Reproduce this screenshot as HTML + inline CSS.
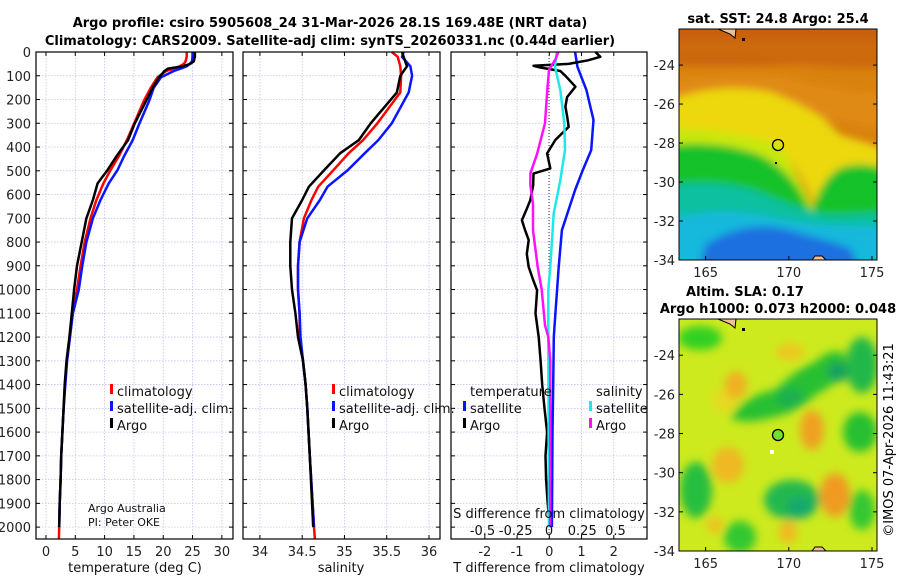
<!DOCTYPE html>
<html><head><meta charset="utf-8">
<style>
body{margin:0;background:#fff;}
svg text{font-family:"DejaVu Sans","Liberation Sans",sans-serif;}
</style></head>
<body>
<svg id="chart" width="900" height="580" viewBox="0 0 900 580" xmlns="http://www.w3.org/2000/svg">
<defs>
<filter id="blur1" x="-20%" y="-20%" width="140%" height="140%"><feGaussianBlur stdDeviation="4"/></filter>
<filter id="blur2" x="-20%" y="-20%" width="140%" height="140%"><feGaussianBlur stdDeviation="4.5"/></filter>
<clipPath id="clipTop"><rect x="679" y="29" width="198" height="231"/></clipPath>
<clipPath id="clipBot"><rect x="679" y="319" width="198" height="232"/></clipPath>
</defs>
<g id="titles" font-weight="bold" font-size="13" text-anchor="middle">
<text x="330" y="27">Argo profile: csiro 5905608_24 31-Mar-2026 28.1S 169.48E (NRT data)</text>
<text x="330" y="45">Climatology: CARS2009. Satellite-adj clim: synTS_20260331.nc (0.44d earlier)</text>
</g>

<!-- SST map -->
<g clip-path="url(#clipTop)">
<rect x="679" y="29" width="198" height="231" fill="#d9820f"/>
<g filter="url(#blur1)">
<rect x="670" y="20" width="220" height="45" fill="#c8600c"/>
<path d="M670,60 Q730,55 780,62 Q830,70 890,68 L890,40 L670,40Z" fill="#cc6a0e"/>
<path d="M670,80 Q730,72 780,76 Q830,90 890,95 L890,130 Q860,125 840,120 L670,115Z" fill="#e08a12"/>
<path d="M670,100 Q720,82 770,92 Q805,105 825,120 L840,135 L890,150 L890,190 Q850,175 815,205 Q800,170 780,150 Q740,150 670,140Z" fill="#ecd810"/>
<path d="M670,128 Q740,132 780,145 Q795,170 815,210 L800,230 L670,230Z" fill="#c8e810"/>
<path d="M670,145 Q720,140 760,155 Q790,170 805,200 L812,212 Q820,180 840,168 Q860,160 890,170 L890,240 L670,240Z" fill="#14c22a"/>
<path d="M670,185 Q720,178 760,192 Q800,210 830,215 L890,212 L890,270 L670,270Z" fill="#10c0a0"/>
<path d="M670,218 Q720,208 760,215 Q810,228 890,226 L890,270 L670,270Z" fill="#14b8dc"/>
<path d="M705,245 Q740,222 780,228 Q820,238 850,248 L860,270 L700,270Z" fill="#1c70e0"/>
</g>
<path d="M718,29 L730,34 L735,38 L736,29Z" fill="#f0c090" stroke="#000" stroke-width="1"/>
<rect x="742" y="38" width="3" height="3" fill="#000"/>
<rect x="775" y="162" width="2" height="2" fill="#000"/>
<path d="M812,260 L815,256 L822,256 L826,260Z" fill="#f0c090" stroke="#000" stroke-width="1"/>
<circle cx="778" cy="145" r="5.5" fill="none" stroke="#000" stroke-width="1.3"/>
</g>
<rect x="679" y="29" width="198" height="231" fill="none" stroke="#000"/>
<text x="778" y="23" font-size="13" font-weight="bold" text-anchor="middle">sat. SST: 24.8 Argo: 25.4</text>

<!-- SLA map -->
<g clip-path="url(#clipBot)">
<rect x="679" y="319" width="198" height="232" fill="#cdea1e"/>
<g filter="url(#blur2)">
<ellipse cx="725" cy="400" rx="12" ry="12" fill="#e8d820"/>
<ellipse cx="736" cy="385" rx="11" ry="14" fill="#f0b020"/>
<ellipse cx="812" cy="430" rx="12" ry="20" fill="#f0a020"/>
<ellipse cx="835" cy="495" rx="15" ry="22" fill="#f09a20"/>
<ellipse cx="728" cy="465" rx="16" ry="18" fill="#f0b820"/>
<ellipse cx="788" cy="532" rx="9" ry="11" fill="#f0b820"/>
<ellipse cx="715" cy="525" rx="8" ry="8" fill="#f0c020"/>
<ellipse cx="790" cy="352" rx="14" ry="8" fill="#f0c420"/>
<ellipse cx="700" cy="338" rx="22" ry="12" fill="#30d020"/>
<ellipse cx="862" cy="365" rx="16" ry="28" fill="#22b848"/>
<path d="M730,418 Q745,395 775,390 Q795,370 815,362 Q835,345 845,355 Q848,380 815,395 Q800,412 770,418 Q745,425 730,418Z" fill="#28c030"/>
<ellipse cx="838" cy="372" rx="10" ry="10" fill="#18a060"/>
<ellipse cx="790" cy="398" rx="14" ry="10" fill="#1cb050"/>
<ellipse cx="860" cy="432" rx="17" ry="20" fill="#28c030"/>
<ellipse cx="696" cy="490" rx="16" ry="28" fill="#26be40"/>
<ellipse cx="792" cy="500" rx="28" ry="20" fill="#22b850"/>
<ellipse cx="800" cy="507" rx="12" ry="10" fill="#18a870"/>
<ellipse cx="740" cy="537" rx="16" ry="16" fill="#30c830"/>
<ellipse cx="862" cy="510" rx="13" ry="20" fill="#36c830"/>
</g>
<path d="M718,319 L730,324 L735,328 L736,319Z" fill="#f0c090" stroke="#000" stroke-width="1"/>
<rect x="742" y="328" width="3" height="3" fill="#000"/>
<rect x="770" y="450" width="4" height="4" fill="#fff"/>
<path d="M812,551 L815,547 L822,547 L826,551Z" fill="#f0c090" stroke="#000" stroke-width="1"/>
<circle cx="778" cy="435" r="5.5" fill="#70e030" stroke="#000" stroke-width="1.3"/>
</g>
<rect x="679" y="319" width="198" height="232" fill="none" stroke="#000"/>
<text x="745" y="296" font-size="13" font-weight="bold" text-anchor="middle">Altim. SLA: 0.17</text>
<text x="778" y="313" font-size="13" font-weight="bold" text-anchor="middle">Argo h1000: 0.073 h2000: 0.048</text>
<text transform="translate(893,440) rotate(-90)" font-size="13" text-anchor="middle">©IMOS 07-Apr-2026 11:43:21</text>
<g id="maps-axes"></g>
<g id="panels"></g>
</svg>
<script>
// ---- data ----
const depthTicks=[0,100,200,300,400,500,600,700,800,900,1000,1100,1200,1300,1400,1500,1600,1700,1800,1900,2000];
const tempTicks=[0,5,10,15,20,25,30];
const salTicks=[34,34.5,35,35.5,36];
const salTickLabels=["34","34.5","35","35.5","36"];
const tdiffTicks=[-2,-1,0,1,2];
const sdiffTicks=[-0.5,-0.25,0,0.25,0.5];
const sdiffTickLabels=["-0.5","-0.25","0","0.25","0.5"];

const depthsT=[0,20,40,50,60,70,80,107,150,205,303,371,440,497,553,623,700,800,900,1000,1100,1200,1300,1400,1500,1600,1700,1800,1900,2000];
const tempArgo=[25.4,25.4,25.2,24.6,23.3,20.8,20.2,19.3,18.2,17.1,15.1,14.0,12.0,10.5,8.8,8.0,6.9,6.1,5.3,4.8,4.4,4.0,3.5,3.2,3.0,2.8,2.6,2.5,2.35,2.25];
const tempSat=[25.0,25.0,24.9,24.5,24.0,23.0,21.8,19.6,18.4,17.6,15.9,14.8,13.3,12.2,10.7,9.3,8.0,6.9,6.2,5.6,4.6,4.1,3.6,3.3,3.0,2.8,2.6,2.5,2.35,2.25];
const depthsTClim=[0,20,40,50,60,70,80,107,150,205,303,371,440,497,553,623,700,800,900,1000,1100,1200,1300,1400,1500,1600,1700,1800,1900,2000,2050];
const tempClim=[24.0,24.0,23.8,23.5,22.8,21.8,20.5,19.0,17.9,16.7,15.0,13.8,12.4,11.0,9.8,8.6,7.6,6.6,5.9,5.3,4.5,4.05,3.55,3.25,3.0,2.8,2.6,2.5,2.35,2.25,2.2];

const depthsS=[0,20,60,100,170,300,371,426,497,567,623,700,800,900,1000,1100,1200,1300,1400,1500,1700,2000];
const salArgo=[35.68,35.70,35.74,35.66,35.62,35.31,35.17,34.95,34.76,34.58,34.50,34.38,34.36,34.36,34.38,34.42,34.45,34.51,34.54,34.56,34.59,34.63];
const salSat=[35.70,35.68,35.78,35.80,35.76,35.56,35.40,35.24,35.04,34.80,34.71,34.56,34.47,34.45,34.45,34.47,34.48,34.51,34.54,34.56,34.59,34.64];
const depthsSClim=[0,20,60,100,170,300,371,426,497,567,623,700,800,900,1000,1100,1200,1300,1400,1500,1700,2000,2050];
const salClim=[35.56,35.63,35.66,35.67,35.66,35.39,35.22,35.05,34.87,34.69,34.61,34.52,34.47,34.45,34.45,34.47,34.47,34.51,34.54,34.56,34.59,34.64,34.65];

const depthsDTArgo=[0,20,35,50,58,65,80,100,146,190,230,270,315,370,427,490,512,560,624,660,708,750,792,850,905,960,1003,1100,1200,1300,1400,1500,1600,1700,1800,1900,1966];
const dtArgo=[1.43,1.58,1.2,0.6,-0.49,-0.3,0.34,0.5,0.81,0.55,0.5,0.55,0.6,0.19,-0.07,0.03,-0.49,-0.5,-0.59,-0.7,-0.85,-0.75,-0.64,-0.7,-0.64,-0.5,-0.38,-0.43,-0.33,-0.27,-0.22,-0.15,-0.07,-0.12,-0.1,-0.05,0];
const depthsDTSat=[0,62,160,286,413,497,581,750,905,1000,1100,1200,1400,1600,2000];
const dtSat=[0.8,0.87,1.15,1.37,1.3,1.04,0.8,0.39,0.29,0.24,0.19,0.14,0.12,0.1,0.08];
const depthsDSSat=[0,62,160,300,413,540,680,905,1000,1200,1600,2000];
const dsSat=[0.058,0.045,0.085,0.115,0.12,0.085,0.035,0.01,-0.005,-0.005,-0.003,0];
const depthsDSArgo=[0,30,75,160,300,430,510,560,640,750,905,1000,1150,1200,1300,1600,2000];
const dsArgo=[0.07,0.05,0.0,-0.013,-0.03,-0.09,-0.14,-0.14,-0.12,-0.12,-0.085,-0.055,-0.03,-0.005,0.01,0.01,0.008];

const latTicks=[-24,-26,-28,-30,-32,-34];
const lonTicks=[165,170,175];

// ---- helpers ----
const NS="http://www.w3.org/2000/svg";
const root=document.getElementById('panels');
function mk(tag,attrs,parent){const e=document.createElementNS(NS,tag);for(const k in attrs)e.setAttribute(k,attrs[k]);(parent||root).appendChild(e);return e;}
const top0=52,bot0=539;
const yD=d=>top0+d*(bot0-top0)/2050;

const panels=[
 {name:'temperature',x0:36,x1:233,min:-1.7,max:31.9},
 {name:'salinity',x0:243,x1:440,min:33.8,max:36.13},
 {name:'difference',x0:451,x1:647,min:-3.05,max:3.03}
];
function xS(p,v){return p.x0+(v-p.min)/(p.max-p.min)*(p.x1-p.x0);}
const sdX=v=>549+v*133;

function frame(p,ticks,labels,showDepth){
  const g=mk('g',{});
  
  
  ticks.forEach(t=>{const x=xS(p,t);mk('line',{x1:x,x2:x,y1:top0,y2:bot0,stroke:'#c0c4ec','stroke-width':0.8,'stroke-dasharray':'1.5,1.5'},g);});
  depthTicks.forEach(d=>{const y=yD(d);mk('line',{x1:p.x0,x2:p.x1,y1:y,y2:y,stroke:'#c0c4ec','stroke-width':0.8,'stroke-dasharray':'1.5,1.5'},g);
    mk('line',{x1:p.x0,x2:p.x0+4,y1:y,y2:y,stroke:'#000'},g);mk('line',{x1:p.x1-4,x2:p.x1,y1:y,y2:y,stroke:'#000'},g);
    if(showDepth){const t=mk('text',{x:31,y:y+5,'font-size':13,'text-anchor':'end',fill:'#222'},g);t.textContent=d;}
  });
  ticks.forEach((t,i)=>{const x=xS(p,t);mk('line',{x1:x,x2:x,y1:bot0,y2:bot0-4,stroke:'#000'},g);mk('line',{x1:x,x2:x,y1:top0,y2:top0+4,stroke:'#000'},g);
    const tx=mk('text',{x:x,y:556,'font-size':13,'text-anchor':'middle',fill:'#222'},g);tx.textContent=labels[i];});
  return g;
}
function line(pts,color,w,name){
  const e=mk('polyline',{points:pts.map(p=>p[0].toFixed(1)+','+p[1].toFixed(1)).join(' '),fill:'none',stroke:color,'stroke-width':w,'stroke-linejoin':'round'});
  
  
}
function txt(x,y,s,size,anchor,name){const t=mk('text',{x:x,y:y,'font-size':size,'text-anchor':anchor||'start',fill:'#111'});t.textContent=s;
  
  
  return t;}
function mark(x,y,color,name){const r=mk('rect',{x:x,y:y-12,width:3,height:10,fill:color});
  
  }

const P0=panels[0],P1=panels[1],P2=panels[2];
frame(P0,tempTicks,tempTicks.map(String),true);
frame(P1,salTicks,salTickLabels,false);
frame(P2,tdiffTicks,tdiffTicks.map(String),false);

mk('line',{x1:549,x2:549,y1:top0,y2:bot0,stroke:'#333','stroke-width':1,'stroke-dasharray':'1,2'});

line(depthsTClim.map((d,i)=>[xS(P0,tempClim[i]),yD(d)]),'#ff0000',2.5,'temp-climatology-line');
line(depthsT.map((d,i)=>[xS(P0,tempSat[i]),yD(d)]),'#0a14ff',2.5,'temp-satellite-line');
line(depthsT.map((d,i)=>[xS(P0,tempArgo[i]),yD(d)]),'#000',2.5,'temp-argo-line');
line(depthsSClim.map((d,i)=>[xS(P1,salClim[i]),yD(d)]),'#ff0000',2.5,'sal-climatology-line');
line(depthsS.map((d,i)=>[xS(P1,salSat[i]),yD(d)]),'#0a14ff',2.5,'sal-satellite-line');
line(depthsS.map((d,i)=>[xS(P1,salArgo[i]),yD(d)]),'#000',2.5,'sal-argo-line');
line(depthsDTSat.map((d,i)=>[xS(P2,dtSat[i]),yD(d)]),'#0a14ff',2.5,'tdiff-satellite-line');
line(depthsDTArgo.map((d,i)=>[xS(P2,dtArgo[i]),yD(d)]),'#000',2.5,'tdiff-argo-line');
line(depthsDSSat.map((d,i)=>[sdX(dsSat[i]),yD(d)]),'#20e8e8',2.5,'sdiff-satellite-line');
line(depthsDSArgo.map((d,i)=>[sdX(dsArgo[i]),yD(d)]),'#ff10ff',2.5,'sdiff-argo-line');

panels.forEach(p=>{const r=mk('rect',{x:p.x0,y:top0,width:p.x1-p.x0,height:bot0-top0,fill:'none',stroke:'#000','stroke-width':1.2});
  
  });

[[P0,110],[P1,332]].forEach(([p,mx],k)=>{
  mark(mx,396,'#ff0000','legend-climatology-marker');txt(mx+7,396,'climatology',13,'start','legend-climatology');
  mark(mx,413,'#0a14ff','legend-satellite-marker');txt(mx+7,413,'satellite-adj. clim.',13,'start','legend-satellite-adj-clim');
  mark(mx,430,'#000','legend-argo-marker');txt(mx+7,430,'Argo',13,'start','legend-argo');
});
txt(470,396,'temperature',13,'start','legend-temperature-heading');
txt(596,396,'salinity',13,'start','legend-salinity-heading');
mark(463,413,'#0a14ff','legend-t-satellite-marker');txt(470,413,'satellite',13,'start','legend-t-satellite');
mark(463,430,'#000','legend-t-argo-marker');txt(470,430,'Argo',13,'start','legend-t-argo');
mark(589,413,'#20e8e8','legend-s-satellite-marker');txt(596,413,'satellite',13,'start','legend-s-satellite');
mark(589,430,'#ff10ff','legend-s-argo-marker');txt(596,430,'Argo',13,'start','legend-s-argo');

txt(88,512,'Argo Australia',11,'start','argo-australia-note');
txt(88,526,'PI: Peter OKE',11,'start','pi-note');

txt(549,518,'S difference from climatology',13,'middle','s-diff-axis-title');
sdiffTicks.forEach((v,i)=>{txt(sdX(v),535,sdiffTickLabels[i],13,'middle','s-diff-tick-label');});

txt(135,572,'temperature (deg C)',13,'middle','x-axis-title-temperature');
txt(341,572,'salinity',13,'middle','x-axis-title-salinity');
txt(549,572,'T difference from climatology',13,'middle','x-axis-title-t-difference');

const mg=document.getElementById('maps-axes');
const lonX=l=>679+(l-163.4)*198/11.9;
[[29,-22.15,260],[319,-22.15,551]].forEach(([yt,latTop,yb],k)=>{
  const latY=la=>yt+(latTop-la)*(yb-yt)/(latTop+34);
  latTicks.forEach(la=>{const y=latY(la);
    mk('line',{x1:877,x2:873,y1:y,y2:y,stroke:'#000'},mg);mk('line',{x1:679,x2:683,y1:y,y2:y,stroke:'#000'},mg);
    const t=mk('text',{x:675,y:y+5,'font-size':13,'text-anchor':'end',fill:'#222'},mg);t.textContent=la;
    
    });
  lonTicks.forEach(lo=>{const x=lonX(lo);
    mk('line',{x1:x,x2:x,y1:yb,y2:yb-4,stroke:'#000'},mg);
    const t=mk('text',{x:x,y:yb+17,'font-size':13,'text-anchor':'middle',fill:'#222'},mg);t.textContent=lo;
    
    });
});
</script>
</body></html>
